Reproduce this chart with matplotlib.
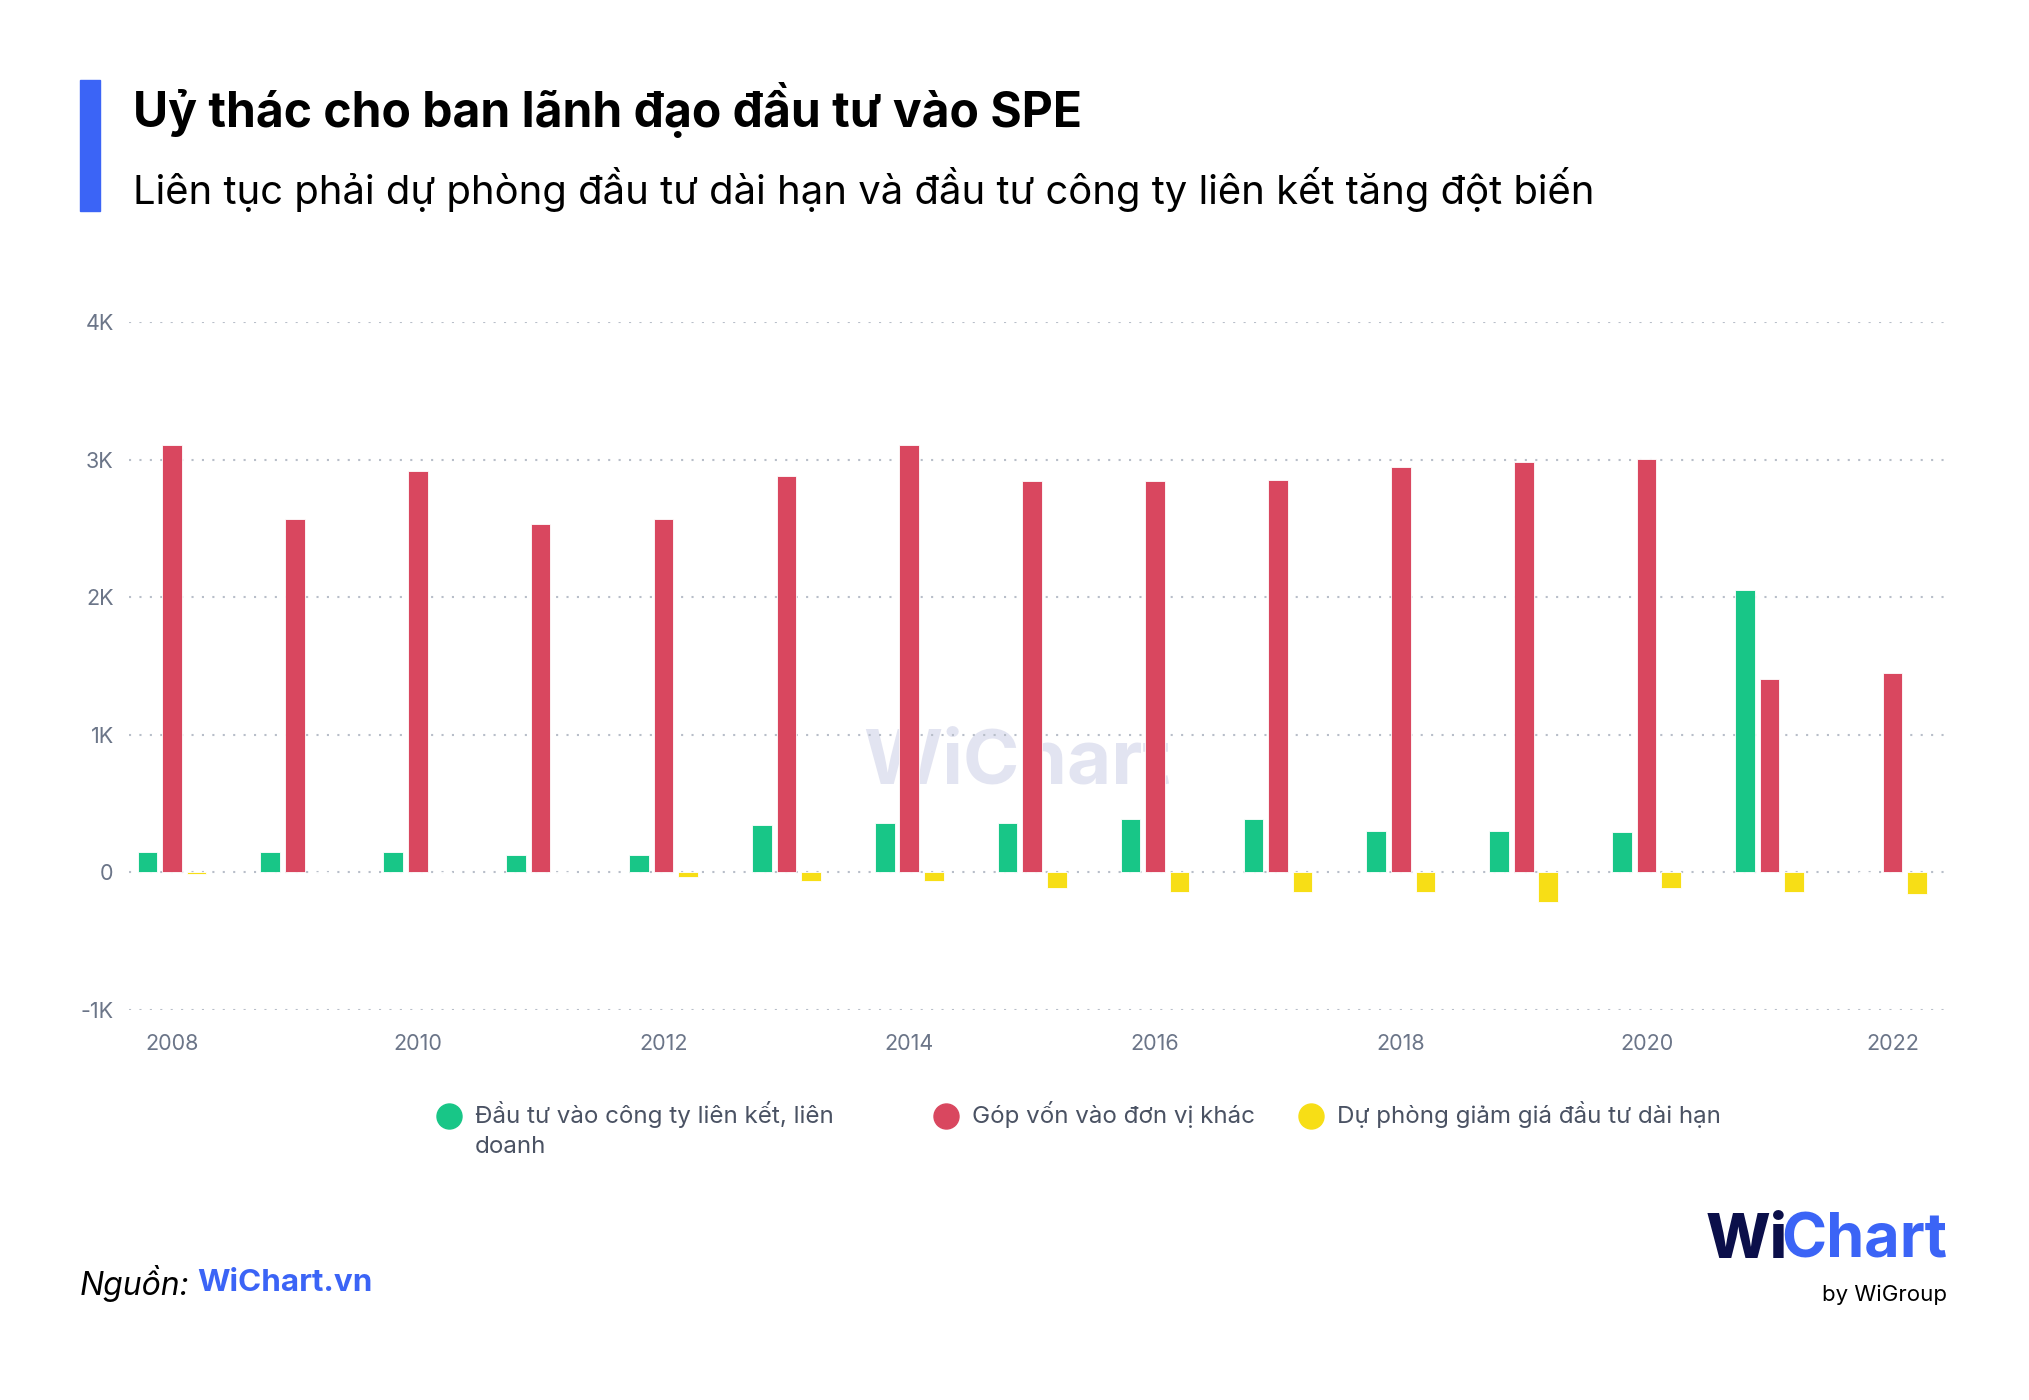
import matplotlib.pyplot as plt
import numpy as np
from matplotlib.lines import Line2D

plt.rcParams['font.family'] = ['Inter', 'DejaVu Sans']

# data
years = list(range(2008, 2023))
lien_ket = [150, 150, 150, 130, 130, 345, 362, 362, 391, 391, 304, 304, 290, 2051, 0]
gop_von = [3104, 2568, 2916, 2530, 2568, 2879, 3104, 2841, 2841, 2850, 2944, 2982, 3001, 1402, 1449]
du_phong = [-15, 0, 0, 0, -35, -60, -60, -115, -145, -145, -145, -216, -115, -145, -159]

series_names = ['Đầu tư vào công ty liên kết, liên\ndoanh',
                'Góp vốn vào đơn vị khác',
                'Dự phòng giảm giá đầu tư dài hạn']
colors = ['#18c687', '#d9475f', '#f7de16']
yticks = [-1000, 0, 1000, 2000, 3000, 4000]
ytick_labels = ['-1K', '0', '1K', '2K', '3K', '4K']

fig = plt.figure(figsize=(20.29, 14), dpi=100)
ax = fig.add_axes([129/2029, 1 - 1010/1400, (1944-129)/2029, (1010-322)/1400])

x = np.array(years)
w = 0.16
for i, vals in enumerate([lien_ket, gop_von, du_phong]):
    ax.bar(x + (i - 1) * 0.2, vals, width=w, color=colors[i],
           edgecolor='white', linewidth=0.6, zorder=3)

ax.set_ylim(-1000, 4000)
ax.set_xlim(2007.65, 2022.42)
ax.set_yticks(yticks)
ax.set_yticklabels(ytick_labels)
ax.set_xticks(years[::2])
ax.set_xticklabels([str(y) for y in years[::2]])
ax.tick_params(length=0, labelsize=15.5, colors='#6b7588')
ax.tick_params(axis='y', pad=11)
ax.tick_params(axis='x', pad=17)
ax.grid(axis='y', linestyle=(0, (1, 4)), color='#b8bec9', linewidth=1.5, zorder=0)
for s in ax.spines.values():
    s.set_visible(False)

# watermark
ax.text(0.489, 0.358, 'WiChart', transform=ax.transAxes, fontsize=55, fontweight='bold',
        color='#8f95c8', alpha=0.25, ha='center', va='center', zorder=1)

# header
fig.add_artist(plt.Rectangle((80/2029, 1 - 211/1400), 20/2029, 131/1400,
                             transform=fig.transFigure, color='#3b64f6'))
fig.text(133/2029, 1 - 110/1400, 'Uỷ thác cho ban lãnh đạo đầu tư vào SPE',
         fontsize=34.6, fontweight='bold', color='black', va='center')
fig.text(133/2029, 1 - 189/1400,
         'Liên tục phải dự phòng đầu tư dài hạn và đầu tư công ty liên kết tăng đột biến',
         fontsize=28.8, color='black', va='center')

# legend
leg_x = [449, 946, 1311]
for cx, name, c in zip(leg_x, series_names, colors):
    fig.add_artist(Line2D([cx/2029], [1 - 1116/1400], marker='o', markersize=18,
                          color=c, linestyle='none', transform=fig.transFigure))
    fig.text((cx + 26)/2029, 1 - 1101/1400, name, fontsize=17.4, color='#4a5263',
             va='top', ha='left', linespacing=1.45)

# source
fig.text(80/2029, 1 - 1283/1400, 'Nguồn:', fontsize=23, fontstyle='italic',
         color='black', va='center')
fig.text(197/2029, 1 - 1283/1400, 'WiChart.vn', fontsize=22.6, fontweight='bold',
         color='#3b64f6', va='center')

# logo
fig.text(1706/2029, 1 - 1242/1400, 'Wi', fontsize=44, fontweight='heavy',
         color='#0b0f4a', va='center')
fig.text(1947/2029, 1 - 1242/1400, 'Chart', fontsize=44, fontweight='bold',
         color='#3b64f6', va='center', ha='right')
fig.text(1947/2029, 1 - 1295/1400, 'by WiGroup', fontsize=16, color='black',
         va='center', ha='right')

fig.savefig('out.png', dpi=100, facecolor='white')
